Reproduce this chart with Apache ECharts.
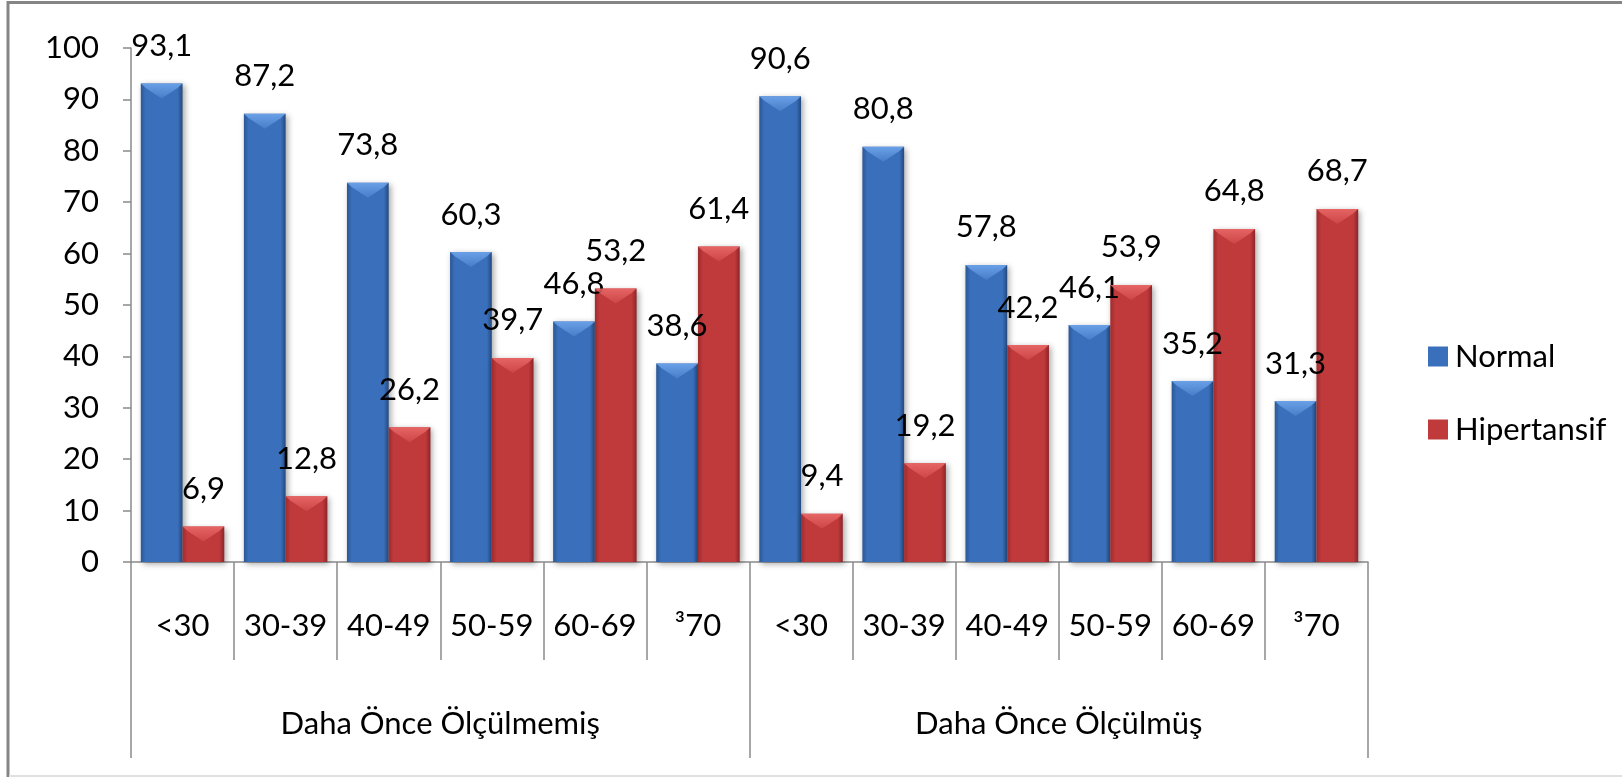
<!DOCTYPE html>
<html>
<head>
<meta charset="utf-8">
<script src="https://cdn.jsdelivr.net/npm/echarts@6/dist/echarts.min.js"></script>
<style>
html,body{margin:0;padding:0;background:#fff;}
#chart{width:1622px;height:777px;}
</style>
</head>
<body>
<div id="chart"></div>
<script>
const categories = ['<30','30-39','40-49','50-59','60-69','³70','<30','30-39','40-49','50-59','60-69','³70'];
const groups = ['Daha Önce Ölçülmemiş','Daha Önce Ölçülmüş'];
const normalValues = [93.1, 87.2, 73.8, 60.3, 46.8, 38.6, 90.6, 80.8, 57.8, 46.1, 35.2, 31.3];
const hipertansifValues = [6.9, 12.8, 26.2, 39.7, 53.2, 61.4, 9.4, 19.2, 42.2, 53.9, 64.8, 68.7];
const yTicks = [0,10,20,30,40,50,60,70,80,90,100];

const FONT = 'Lato';
const TXT = '#000';
const chart = echarts.init(document.getElementById('chart'));

function grad(c1, c2, c3) {
  return new echarts.graphic.LinearGradient(0, 0, 1, 0, [
    {offset: 0, color: c1},
    {offset: 0.12, color: c2},
    {offset: 0.88, color: c2},
    {offset: 1, color: c3}
  ]);
}
function bevelGrad(c) {
  return new echarts.graphic.LinearGradient(0, 0, 0, 1, [
    {offset: 0, color: c},
    {offset: 1, color: echarts.color.modifyAlpha(c, 0.25)}
  ]);
}
const fmt = p => p.value.toFixed(1).replace('.', ',');
const bevelPath = 'path://M0,0 L100,0 L88,30 L50,100 L12,30 Z';

chart.setOption({
  animation: false,
  backgroundColor: '#fff',
  textStyle: {fontFamily: FONT},
  grid: {left: 131, right: 254, top: 48, bottom: 215, containLabel: false},
  legend: {
    orient: 'vertical',
    left: 1423,
    top: 336,
    itemWidth: 20,
    itemHeight: 20,
    itemGap: 42,
    textStyle: {fontFamily: FONT, fontSize: 31, color: TXT, padding: [0,0,0,2]},
    data: [
      {name: 'Normal', icon: 'rect', itemStyle: {color: '#3A70BB'}},
      {name: 'Hipertansif', icon: 'rect', itemStyle: {color: '#C03A3C'}}
    ]
  },
  xAxis: [
    {
      type: 'category',
      data: categories,
      gridIndex: 0,
      position: 'bottom',
      axisLine: {show: true, lineStyle: {color: '#8a8a8a', width: 1.5}},
      axisTick: {show: true, interval: 0, length: 98, lineStyle: {color: '#8a8a8a', width: 1.5}},
      axisLabel: {interval: 0, margin: 48, fontFamily: FONT, fontSize: 31, color: TXT},
      splitLine: {show: false}
    },
    {
      type: 'category',
      data: groups,
      gridIndex: 0,
      position: 'bottom',
      axisLine: {show: false},
      axisTick: {show: true, interval: 0, length: 196, lineStyle: {color: '#8a8a8a', width: 1.5}},
      axisLabel: {interval: 0, margin: 146, fontFamily: FONT, fontSize: 31, color: TXT},
      splitLine: {show: false}
    }
  ],
  yAxis: {
    type: 'value',
    min: 0,
    max: 100,
    interval: 10,
    axisLine: {show: true, lineStyle: {color: '#8a8a8a', width: 1.5}},
    axisTick: {show: true, length: 8, lineStyle: {color: '#8a8a8a', width: 1.5}},
    axisLabel: {margin: 32, fontFamily: FONT, fontSize: 31, color: TXT,
      formatter: v => yTicks.indexOf(v) >= 0 ? String(v) : ''},
    splitLine: {show: false}
  },
  series: [
    {
      name: 'Normal',
      type: 'bar',
      xAxisIndex: 0,
      data: normalValues,
      barGap: '0%',
      barCategoryGap: '19%',
      itemStyle: {
        color: grad('#2B5795', '#3A70BB', '#24497E'),
        shadowBlur: 6, shadowColor: 'rgba(0,0,0,0.35)', shadowOffsetX: 2, shadowOffsetY: 2
      },
      label: {show: true, position: 'top', distance: 22, formatter: fmt,
        fontFamily: FONT, fontSize: 31, color: TXT}
    },
    {
      name: 'Hipertansif',
      type: 'bar',
      xAxisIndex: 0,
      data: hipertansifValues,
      barGap: '0%',
      barCategoryGap: '19%',
      itemStyle: {
        color: grad('#9E2B2D', '#C03A3C', '#8E2527'),
        shadowBlur: 6, shadowColor: 'rgba(0,0,0,0.35)', shadowOffsetX: 2, shadowOffsetY: 2
      },
      label: {show: true, position: 'top', distance: 22, formatter: fmt,
        fontFamily: FONT, fontSize: 31, color: TXT}
    },
    {
      name: 'NormalBevel',
      type: 'pictorialBar',
      xAxisIndex: 0,
      data: normalValues,
      barGap: '0%',
      barCategoryGap: '19%',
      symbol: bevelPath,
      symbolSize: ['100%', 15],
      symbolPosition: 'end',
      symbolOffset: [0, 0],
      itemStyle: {color: bevelGrad('rgba(110,165,235,0.9)')},
      silent: true,
      z: 3
    },
    {
      name: 'HipertansifBevel',
      type: 'pictorialBar',
      xAxisIndex: 0,
      data: hipertansifValues,
      barGap: '0%',
      barCategoryGap: '19%',
      symbol: bevelPath,
      symbolSize: ['100%', 15],
      symbolPosition: 'end',
      symbolOffset: [0, 0],
      itemStyle: {color: bevelGrad('rgba(235,105,105,0.9)')},
      silent: true,
      z: 3
    }
  ],
  graphic: [
    {type: 'line', shape: {x1: 7, y1: 2.5, x2: 1622, y2: 2.5}, style: {stroke: '#858585', lineWidth: 3}, silent: true},
    {type: 'line', shape: {x1: 8, y1: 1, x2: 8, y2: 777}, style: {stroke: '#858585', lineWidth: 3}, silent: true},
    {type: 'line', shape: {x1: 9, y1: 776, x2: 1622, y2: 776}, style: {stroke: '#e0e0e0', lineWidth: 2}, silent: true}
  ]
});
</script>
</body>
</html>
